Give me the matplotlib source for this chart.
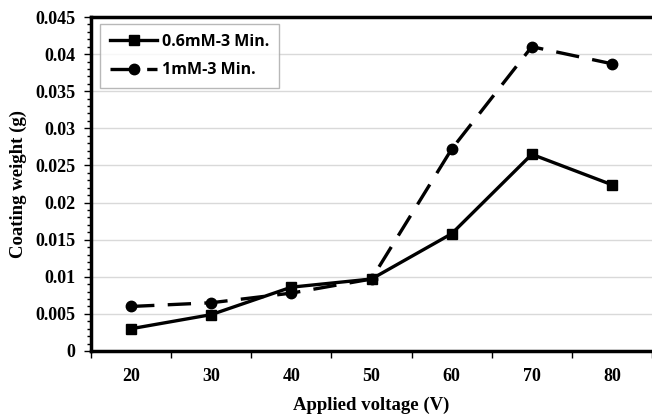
import matplotlib.pyplot as plt
from matplotlib.ticker import MultipleLocator

voltage = [20, 30, 40, 50, 60, 70, 80]
w_06mM = [0.003, 0.0049, 0.0086, 0.0097, 0.0158, 0.0265, 0.0224]
w_1mM = [0.006, 0.0065, 0.0078, 0.0097, 0.0272, 0.041, 0.0387]

serif = 'Liberation Serif'

fig = plt.figure(figsize=(6.52, 4.19), dpi=100)
ax = fig.add_axes([0.1396, 0.1623, 0.8604, 0.7971])

ax.plot(voltage, w_06mM, color='black', linewidth=2.4, marker='s', markersize=7.5,
        label='0.6mM-3 Min.')
ax.plot(voltage, w_1mM, color='black', linewidth=2.4, marker='o', markersize=7.5,
        dashes=(7, 4), label='1mM-3 Min.')

ax.set_xlim(15, 85)
ax.set_ylim(0, 0.045)
ax.set_xticks(voltage)
ax.set_xticks([15, 25, 35, 45, 55, 65, 75, 85], minor=True)
ax.tick_params(axis='x', which='major', length=0, pad=12)
ax.tick_params(axis='x', which='minor', length=5, width=1, direction='out')
ax.yaxis.set_minor_locator(MultipleLocator(0.001))
ax.tick_params(axis='y', which='major', length=5, width=1, direction='out', pad=6)
ax.tick_params(axis='y', which='minor', length=3, width=1, direction='out')
ax.set_yticks([0, 0.005, 0.01, 0.015, 0.02, 0.025, 0.03, 0.035, 0.04, 0.045])
ax.set_yticklabels(['0', '0.005', '0.01', '0.015', '0.02', '0.025', '0.03', '0.035', '0.04', '0.045'])

for lab in ax.get_xticklabels() + ax.get_yticklabels():
    lab.set_fontfamily(serif)
    lab.set_fontweight('bold')
    lab.set_fontsize(13)

ax.grid(axis='y', color='#d9d9d9', linewidth=1)
ax.set_axisbelow(True)

for s in ['left', 'bottom', 'top']:
    ax.spines[s].set_linewidth(2.5)
ax.spines['right'].set_visible(False)

ax.set_xlabel('Applied voltage (V)', fontfamily=serif, fontweight='bold', fontsize=13.5, labelpad=9)
ax.set_ylabel('Coating weight (g)', fontfamily=serif, fontweight='bold', fontsize=13.5, labelpad=6)

leg = ax.legend(loc='upper left', bbox_to_anchor=(0.016, 0.979), borderaxespad=0,
                fancybox=False,
                prop={'family': 'Open Sans', 'weight': 'bold', 'size': 11.5},
                handlelength=3, borderpad=0.6, labelspacing=0.8, handletextpad=0.3)
leg.get_frame().set_edgecolor('#a6a6a6')
leg.get_frame().set_linewidth(1)

fig.savefig('out.png', dpi=100)
